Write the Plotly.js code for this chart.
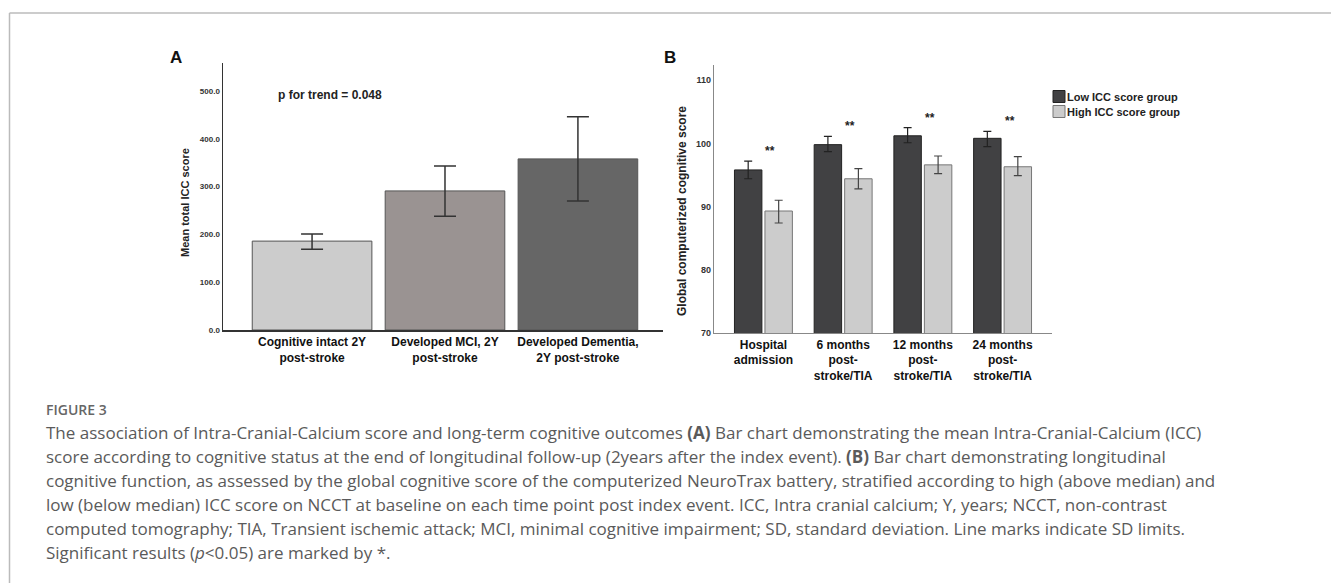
<!DOCTYPE html>
<html><head><meta charset="utf-8">
<script src="https://cdn.plot.ly/plotly-3.0.1.min.js"></script>
<style>html,body{margin:0;padding:0;background:#fff;}#chart{width:1331px;height:583px;}</style>
</head><body><div id="chart"></div>
<script>
// ---- Panel A data ----
const statusCategories = ["Cognitive intact 2Y<br>post-stroke", "Developed MCI, 2Y<br>post-stroke", "Developed Dementia,<br>2Y post-stroke"];
const meanICC = [186, 291, 358];
const iccSdUpper = [201, 343, 446];
const iccSdLower = [169, 238, 270];
const iccTickVals = [0, 100, 200, 300, 400, 500];
const iccTickText = ["0.0", "100.0", "200.0", "300.0", "400.0", "500.0"];

// ---- Panel B data ----
const timePoints = ["Hospital<br>admission", "6 months<br>post-<br>stroke/TIA", "12 months<br>post-<br>stroke/TIA", "24 months<br>post-<br>stroke/TIA"];
const lowIccScore = [95.8, 99.8, 101.2, 100.8];
const lowIccUpper = [97.2, 101.1, 102.5, 101.9];
const lowIccLower = [94.4, 98.7, 100.1, 99.5];
const highIccScore = [89.3, 94.4, 96.6, 96.3];
const highIccUpper = [91.0, 96.0, 98.0, 97.9];
const highIccLower = [87.4, 92.8, 95.2, 94.9];
const cogTickVals = [70, 80, 90, 100, 110];
const significance = ["**", "**", "**", "**"];

const captionHead = "FIGURE 3";
const captionLines = [
  "The association of Intra-Cranial-Calcium score and long-term cognitive outcomes <b>(A)</b> Bar chart demonstrating the mean Intra-Cranial-Calcium (ICC)",
  "score according to cognitive status at the end of longitudinal follow-up (2years after the index event). <b>(B)</b> Bar chart demonstrating longitudinal",
  "cognitive function, as assessed by the global cognitive score of the computerized NeuroTrax battery, stratified according to high (above median) and",
  "low (below median) ICC score on NCCT at baseline on each time point post index event. ICC, Intra cranial calcium; Y, years; NCCT, non-contrast",
  "computed tomography; TIA, Transient ischemic attack; MCI, minimal cognitive impairment; SD, standard deviation. Line marks indicate SD limits.",
  "Significant results (<i>p</i>&lt;0.05) are marked by *."
];

// ---- layout helpers (pixel -> paper) ----
const W = 1331, H = 583;
const px = x => x / W;
const py = y => 1 - y / H;
const ARIAL = "Liberation Sans, Arial, sans-serif";
const CAPFONT = "Open Sans, Noto Sans, sans-serif";

const up = (hi, m) => hi.map((v, i) => +(v - m[i]).toFixed(3));
const dn = (lo, m) => lo.map((v, i) => +(m[i] - v).toFixed(3));

const traces = [
  {
    type: "bar", x: statusCategories, y: meanICC, xaxis: "x", yaxis: "y",
    width: 0.9, showlegend: false, hoverinfo: "x+y",
    marker: {color: ["#cccccc", "#9a9392", "#666666"], line: {color: "#555555", width: 1}},
    error_y: {type: "data", symmetric: false, array: up(iccSdUpper, meanICC), arrayminus: dn(iccSdLower, meanICC),
              color: "#333333", thickness: 1.5, width: 11}
  },
  {
    type: "bar", name: "Low ICC score group", x: timePoints, y: lowIccScore, xaxis: "x2", yaxis: "y2",
    marker: {color: "#414143", line: {color: "#222222", width: 1}},
    error_y: {type: "data", symmetric: false, array: up(lowIccUpper, lowIccScore), arrayminus: dn(lowIccLower, lowIccScore),
              color: "#222222", thickness: 1.2, width: 4}
  },
  {
    type: "bar", name: "High ICC score group", x: timePoints, y: highIccScore, xaxis: "x2", yaxis: "y2",
    marker: {color: "#cccccc", line: {color: "#777777", width: 1}},
    error_y: {type: "data", symmetric: false, array: up(highIccUpper, highIccScore), arrayminus: dn(highIccLower, highIccScore),
              color: "#444444", thickness: 1.2, width: 4}
  }
];

const annotations = [];
const paperText = (text, x, y, font, extra) => Object.assign({
  text: text, x: px(x), y: py(y), xref: "paper", yref: "paper", xanchor: "center", yanchor: "middle",
  showarrow: false, font: font}, extra || {});

// panel letters
annotations.push(paperText("<b>A</b>", 176, 58, {family: ARIAL, size: 17, color: "#111"}));
annotations.push(paperText("<b>B</b>", 670, 58, {family: ARIAL, size: 17, color: "#111"}));
annotations.push(paperText("<b>p for trend = 0.048</b>", 330, 95, {family: ARIAL, size: 12, color: "#222"}));
// y axis titles
annotations.push(paperText("<b>Mean total ICC score</b>", 185, 203, {family: ARIAL, size: 11, color: "#222"}, {textangle: -90}));
annotations.push(paperText("<b>Global computerized cognitive score</b>", 682, 211, {family: ARIAL, size: 12, color: "#222"}, {textangle: -90}));
// significance markers
significance.forEach((s, i) => {
  annotations.push({text: "<b>" + s + "</b>", x: timePoints[i], y: lowIccUpper[i], xref: "x2", yref: "y2",
    xanchor: "center", xshift: 7, yshift: 1, yanchor: "bottom", showarrow: false, font: {family: ARIAL, size: 12, color: "#222"}});
});
// caption
annotations.push(paperText(captionHead, 44, 409, {family: CAPFONT, size: 14, color: "#666", weight: 600}, {xanchor: "left"}));
captionLines.forEach((t, i) => {
  annotations.push(paperText(t, 44, 432 + 24 * i, {family: CAPFONT, size: 17, color: "#5a5a5a"}, {xanchor: "left"}));
});

const layout = {
  width: W, height: H, margin: {l: 0, r: 0, t: 0, b: 0},
  paper_bgcolor: "#fff", plot_bgcolor: "rgba(0,0,0,0)",
  barmode: "group", bargap: 0.235, bargroupgap: 0.1,
  showlegend: true,
  legend: {x: px(1039), y: py(82), xanchor: "left", yanchor: "top", bgcolor: "rgba(0,0,0,0)",
           font: {family: ARIAL, size: 11, color: "#222", weight: 700}, itemwidth: 30, traceorder: "normal"},
  xaxis: {domain: [px(223), px(663)], anchor: "y", type: "category", range: [-0.67, 2.64],
          showline: true, linecolor: "#333", linewidth: 1.5, ticks: "", showgrid: false, zeroline: false, tickangle: 0,
          tickfont: {family: ARIAL, size: 12, color: "#111", weight: 700}},
  yaxis: {domain: [py(330), py(63)], anchor: "x", range: [0, 558.6], tickvals: iccTickVals, ticktext: iccTickText,
          showline: true, linecolor: "#333", linewidth: 1.5, ticks: "", showgrid: false, zeroline: false,
          tickfont: {family: ARIAL, size: 8, color: "#333", weight: 700}},
  xaxis2: {domain: [px(714), px(1052)], anchor: "y2", type: "category", range: [-0.62, 3.62],
           showline: true, linecolor: "#888", linewidth: 1.2, ticks: "", showgrid: false, zeroline: false, tickangle: 0,
           tickfont: {family: ARIAL, size: 12, color: "#111", weight: 700}},
  yaxis2: {domain: [py(333), py(65)], anchor: "x2", range: [70, 112.4], tickvals: cogTickVals,
           showline: true, linecolor: "#888", linewidth: 1.2, ticks: "", showgrid: false, zeroline: false,
           tickfont: {family: ARIAL, size: 9, color: "#333", weight: 700}},
  annotations: annotations,
  shapes: [
    {type: "line", xref: "paper", yref: "paper", x0: px(9.5), x1: px(9.5), y0: py(13), y1: 0, line: {color: "#bbbbbb", width: 1.5}},
    {type: "line", xref: "paper", yref: "paper", x0: px(9.5), x1: 1, y0: py(13), y1: py(13), line: {color: "#bbbbbb", width: 1.5}}
  ]
};

Plotly.newPlot("chart", traces, layout, {displayModeBar: false, staticPlot: true}).then(gd => {
  // pull legend labels closer to their swatches and tighten the rows, as in the original figure
  gd.querySelectorAll(".legend .legendtext").forEach(t => {
    t.setAttribute("x", +t.getAttribute("x") - 12);
  });
  gd.querySelectorAll(".legend .traces").forEach((g, i) => {
    const m = /translate\(([-\d.]+)[ ,]+([-\d.]+)\)/.exec(g.getAttribute("transform") || "");
    if (m) g.setAttribute("transform", "translate(" + m[1] + "," + (+m[2] - 4 * i) + ")");
  });
});
</script>
</body></html>
